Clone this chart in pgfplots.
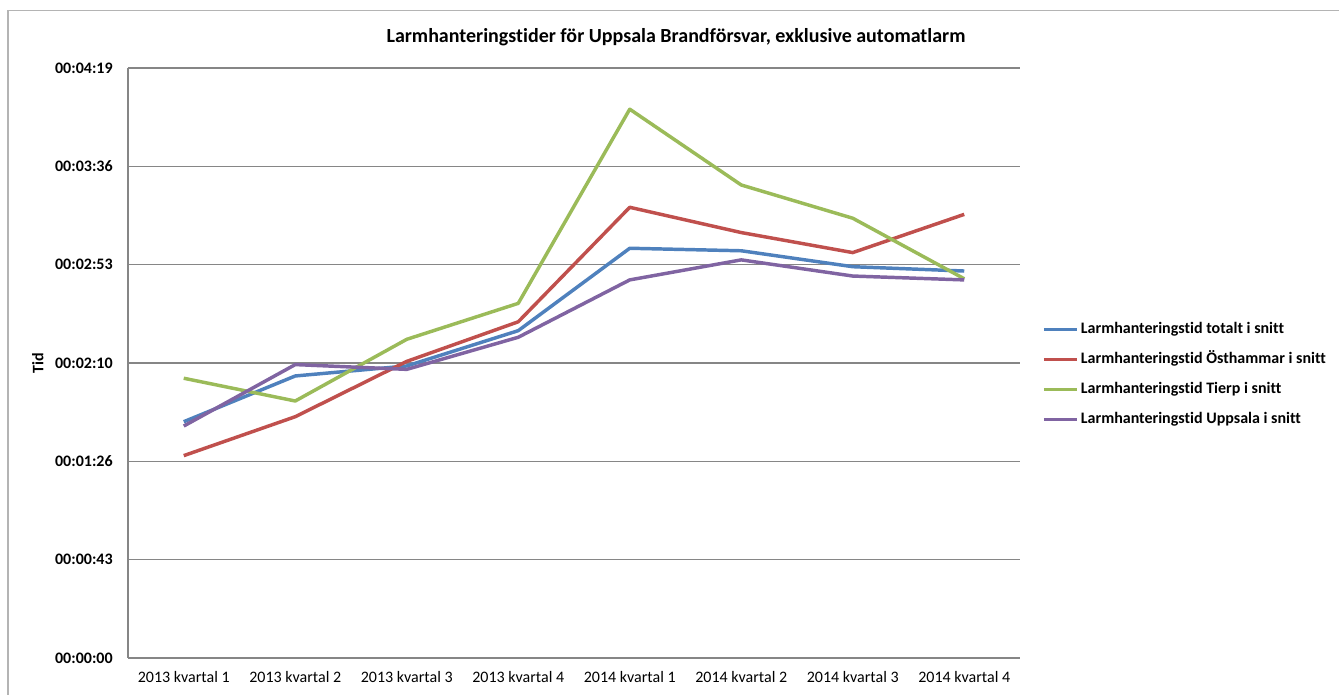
\documentclass[border=0pt]{standalone}
\usepackage{pgfplots}
\pgfplotsset{compat=1.18}
\usepackage{fontspec}
\setmainfont[Ligatures=NoCommon]{Carlito}
\definecolor{sBlue}{HTML}{4F81BD}
\definecolor{sRed}{HTML}{C0504D}
\definecolor{sGreen}{HTML}{9BBB59}
\definecolor{sPurple}{HTML}{8064A2}
\definecolor{axgray}{HTML}{868686}
\definecolor{framegray}{HTML}{B4B4B4}
\begin{document}
\begin{tikzpicture}
\useasboundingbox (0pt,0pt) rectangle (1004.25pt,521.25pt);
\draw[framegray, line width=1.2pt] (6pt,-10pt) -- (6pt,513.5pt) -- (1012pt,513.5pt);
\node[font=\fontsize{15}{18}\selectfont\bfseries, anchor=center] at (507pt,493.5pt) {Larmhanteringstider för Uppsala Brandförsvar, exklusive automatlarm};
\begin{axis}[
  at={(96pt,27.75pt)}, anchor=south west,
  scale only axis, width=669pt, height=442.5pt,
  xmin=-0.5, xmax=7.5, ymin=0, ymax=259.2,
  axis x line=bottom, axis y line=left,
  axis line style={axgray, line width=1.1pt, -},
  xtick={0,...,7},
  xticklabels={2013 kvartal 1,2013 kvartal 2,2013 kvartal 3,2013 kvartal 4,2014 kvartal 1,2014 kvartal 2,2014 kvartal 3,2014 kvartal 4},
  ytick={0,43.2,86.4,129.6,172.8,216,259.2},
  yticklabels={00:00:00,00:00:43,00:01:26,00:02:10,00:02:53,00:03:36,00:04:19},
  major tick length=0pt,
  ymajorgrids, grid style={axgray, line width=0.8pt},
  xticklabel style={font=\fontsize{12}{14}\selectfont, yshift=-6.5pt},
  yticklabel style={font=\fontsize{12}{14}\selectfont\bfseries, xshift=-8pt},
  ylabel={Tid},
  ylabel style={font=\fontsize{12}{14}\selectfont\bfseries, at={(axis description cs:-0.101,0.5)}, anchor=center},
  legend style={draw=none, fill=none, at={(1.02,0.4805)}, anchor=west,
    font=\fontsize{12}{14}\selectfont\bfseries, row sep=7.4pt,
    nodes={inner sep=1.5pt, text height=9pt, text depth=3pt}},
  legend cell align=left,
  legend image code/.code={\draw[#1, line width=2.6pt] (0pt,0pt) -- (25pt,0pt);},
  every axis plot/.append style={line width=2.6pt, line join=round},
  clip=false,
]
\addplot[sBlue] coordinates {(0,103.8) (1,123.9) (2,128.3) (3,143.8) (4,180.0) (5,178.9) (6,171.9) (7,170.0)};
\addlegendentry{Larmhanteringstid totalt i snitt}
\addplot[sRed] coordinates {(0,88.9) (1,106.0) (2,130.3) (3,147.7) (4,198.0) (5,186.9) (6,178.1) (7,194.9)};
\addlegendentry{Larmhanteringstid Östhammar i snitt}
\addplot[sGreen] coordinates {(0,122.9) (1,112.9) (2,140.0) (3,155.8) (4,241.1) (5,207.8) (6,193.2) (7,166.6)};
\addlegendentry{Larmhanteringstid Tierp i snitt}
\addplot[sPurple] coordinates {(0,101.9) (1,128.9) (2,126.8) (3,140.9) (4,166.1) (5,174.9) (6,167.8) (7,166.1)};
\addlegendentry{Larmhanteringstid Uppsala i snitt}
\end{axis}
\end{tikzpicture}
\end{document}
